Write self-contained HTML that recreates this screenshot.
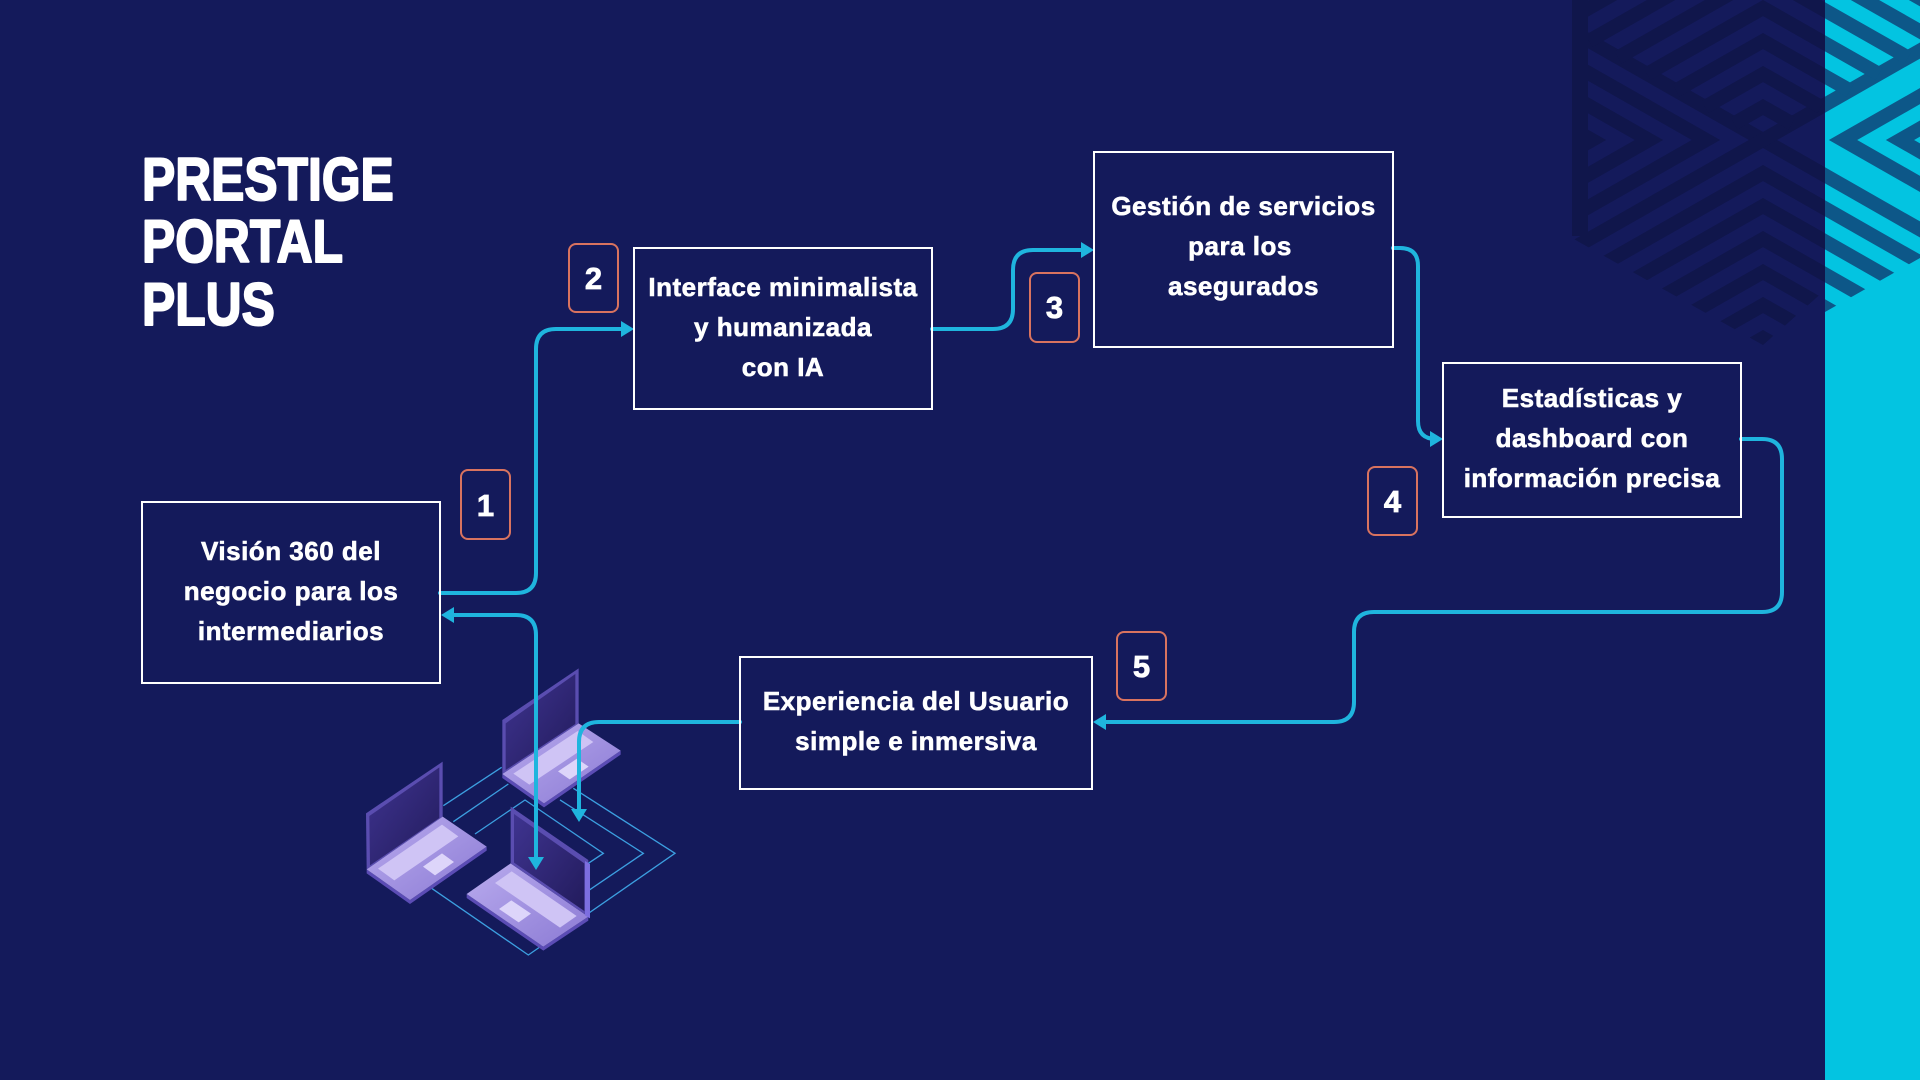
<!DOCTYPE html>
<html><head><meta charset="utf-8"><style>
html,body{margin:0;padding:0;background:#141a5b;}
svg{display:block;}
</style></head><body>
<svg width="1920" height="1080" viewBox="0 0 1920 1080" xmlns="http://www.w3.org/2000/svg" font-family="'Liberation Sans', sans-serif">
<defs>
  <clipPath id="hexNavy"><polygon points="1572,0 1825,0 1825,290 1763,345 1572,238"/></clipPath>
  <clipPath id="hexCyan"><polygon points="1825,0 1920,0 1920,258 1825,312"/></clipPath>
  <linearGradient id="gScreen" x1="0" y1="0" x2="1" y2="1">
    <stop offset="0" stop-color="#3f3490"/><stop offset="1" stop-color="#221b5c"/>
  </linearGradient>
  <linearGradient id="gBase" x1="0" y1="0" x2="1" y2="1">
    <stop offset="0" stop-color="#b9abee"/><stop offset="1" stop-color="#8b7ad4"/>
  </linearGradient>
  <g id="pat" fill="none" stroke-width="14" stroke-linejoin="miter">
    <line x1="1363" y1="-88" x2="2163" y2="368"/>
    <line x1="1363" y1="368" x2="2163" y2="-88"/>
    <polyline points="1306,-88 1706,140 1306,368"/>
    <polyline points="1249,-88 1649,140 1249,368"/>
    <polyline points="1192,-88 1592,140 1192,368"/>
    <polyline points="2243,-88 1843,140 2243,368"/>
    <polyline points="2300,-88 1900,140 2300,368"/>
    <polyline points="1734,123.5 1763,107 1792,123.5"/>
    <polyline points="1705,107 1763,74 1821,107"/>
    <polyline points="1676,90.5 1763,41 1850,90.5"/>
    <polyline points="1647,74 1763,8 1879,74"/>
    <polyline points="1618,57.5 1763,-25 1908,57.5"/>
    <polyline points="1589,41 1763,-58 1937,41"/>
    <polyline points="1560,24.5 1763,-91 1966,24.5"/>
    <polyline points="1531,8 1763,-124 1995,8"/>
    <polyline points="1363,401 1763,173 2163,401"/>
    <polyline points="1363,434 1763,206 2163,434"/>
    <polyline points="1363,467 1763,239 2163,467"/>
    <polyline points="1363,500 1763,272 2163,500"/>
    <polyline points="1363,533 1763,305 2163,533"/>
    <polyline points="1363,566 1763,338 2163,566"/>
  </g>
</defs>

<rect x="0" y="0" width="1920" height="1080" fill="#141a5b"/>
<!-- right cyan strip -->
<rect x="1825" y="0" width="95" height="1080" fill="#03c4e1"/>
<!-- pattern -->
<g clip-path="url(#hexNavy)"><use href="#pat" stroke="#10164b"/></g>
<g clip-path="url(#hexCyan)"><use href="#pat" stroke="#0d5788"/></g>
<rect x="1572" y="0" width="16" height="236" fill="#10164b"/>

<!-- Title -->
<g fill="#ffffff" stroke="#ffffff" stroke-width="2" stroke-linejoin="round" font-weight="bold" font-size="60">
  <text transform="translate(142,200) scale(0.83,1)">PRESTIGE</text>
  <text transform="translate(142,262) scale(0.83,1)">PORTAL</text>
  <text transform="translate(142,325) scale(0.83,1)">PLUS</text>
</g>

<!-- Laptop illustration -->
<g transform="translate(340,640) scale(0.33333)">
  <g fill="none" stroke="#3c9fe0" stroke-width="4">
    <line x1="310" y1="497" x2="485" y2="382"/>
    <line x1="340" y1="545" x2="505" y2="432"/>
    <polyline points="405,582 555,480 790,640 745,670"/>
    <polyline points="660,480 910,640 745,752"/>
    <polyline points="700,445 1005,640 565,945 275,745"/>
  </g>
  <!-- left laptop -->
  <polygon points="80,688 308,530 308,365 78,520" fill="#5a4db0"/>
  <polygon points="90,676 298,534 298,382 88,528" fill="url(#gScreen)"/>
  <polygon points="80,700 210,792 440,632 440,620 210,780 80,688" fill="#5b4cb5"/>
  <polygon points="80,688 308,530 440,620 210,780" fill="url(#gBase)"/>
  <polygon points="114,686 306,554 355,589 163,721" fill="#cfc4f5"/>
  <polygon points="249,680 306,640 342,666 285,706" fill="#ddd5fa"/>
  <!-- top laptop -->
  <polygon points="487,402 716,250 716,85 487,240" fill="#5a4db0"/>
  <polygon points="497,390 706,252 706,102 497,250" fill="url(#gScreen)"/>
  <polygon points="487,414 612,502 842,344 842,332 612,490 487,402" fill="#5b4cb5"/>
  <polygon points="487,402 716,250 842,332 612,490" fill="url(#gBase)"/>
  <polygon points="520,401 713,273 760,306 568,434" fill="#cfc4f5"/>
  <polygon points="654,394 711,356 746,380 689,418" fill="#ddd5fa"/>
  <!-- bottom laptop -->
  <polygon points="380,774 610,932 745,842 745,830 610,920 380,762" fill="#5b4cb5"/>
  <polygon points="512,670 745,830 610,920 380,762" fill="url(#gBase)"/>
  <polygon points="515,694 710,828 660,863 465,729" fill="#cfc4f5"/>
  <polygon points="514,781 573,821 536,847 477,807" fill="#ddd5fa"/>
  <polygon points="512,670 745,830 745,660 512,500" fill="#5a4db0"/>
  <polygon points="522,668 733,813 733,670 522,522" fill="url(#gScreen)"/>
  <polygon points="735,663 750,672 750,835 735,826" fill="#7d6ee0"/>
</g>

<!-- Connectors -->
<g fill="none" stroke="#1fb5de" stroke-width="4" stroke-linecap="round" stroke-linejoin="round">
  <path d="M440,593 H516 Q536,593 536,573 V349 Q536,329 556,329 H624"/>
  <path d="M536,862 V635 Q536,615 516,615 H452"/>
  <path d="M932,329 H993 Q1013,329 1013,309 V270 Q1013,250 1033,250 H1084"/>
  <path d="M1393,248 H1400 Q1418,248 1418,266 V421 Q1418,439 1436,439"/>
  <path d="M1741,439 H1762 Q1782,439 1782,459 V592 Q1782,612 1762,612 H1374 Q1354,612 1354,632 V702 Q1354,722 1334,722 H1104"/>
  <path d="M740,722 H599 Q579,722 579,742 V812"/>
</g>
<g fill="#1fb5de">
  <polygon points="634,329 621,321 621,337"/>
  <polygon points="1094,250 1081,242 1081,258"/>
  <polygon points="1443,439 1430,431 1430,447"/>
  <polygon points="1093,722 1106,714 1106,730"/>
  <polygon points="441,615 454,607 454,623"/>
  <polygon points="536,870 528,857 544,857"/>
  <polygon points="579,822 571,809 587,809"/>
</g>

<!-- Boxes -->
<g fill="none" stroke="#ffffff" stroke-width="2">
  <rect x="142" y="502" width="298" height="181"/>
  <rect x="634" y="248" width="298" height="161"/>
  <rect x="1094" y="152" width="299" height="195"/>
  <rect x="1443" y="363" width="298" height="154"/>
  <rect x="740" y="657" width="352" height="132"/>
</g>

<!-- Badges -->
<g fill="none" stroke="#d9735f" stroke-width="2">
  <rect x="461" y="470" width="49" height="69" rx="7"/>
  <rect x="569" y="244" width="49" height="68" rx="7"/>
  <rect x="1030" y="273" width="49" height="69" rx="7"/>
  <rect x="1368" y="467" width="49" height="68" rx="7"/>
  <rect x="1117" y="632" width="49" height="68" rx="7"/>
</g>
<g fill="#ffffff" stroke="#ffffff" stroke-width="0.8" font-weight="bold" font-size="31" text-anchor="middle">
  <text x="485.5" y="516">1</text>
  <text x="593.5" y="289">2</text>
  <text x="1054.5" y="318">3</text>
  <text x="1392.5" y="512">4</text>
  <text x="1141.5" y="677">5</text>
</g>

<!-- Box labels -->
<g fill="#ffffff" stroke="#ffffff" stroke-width="0.6" font-weight="bold" font-size="26" text-anchor="middle" letter-spacing="0.5">
  <text x="291" y="560">Visión 360 del</text>
  <text x="291" y="600">negocio para los</text>
  <text x="291" y="640">intermediarios</text>

  <text x="783" y="296">Interface minimalista</text>
  <text x="783" y="336">y humanizada</text>
  <text x="783" y="376">con IA</text>

  <text x="1243.5" y="215">Gestión de servicios</text>
  <text x="1240" y="255">para los</text>
  <text x="1243.5" y="295">asegurados</text>

  <text x="1592" y="407">Estadísticas y</text>
  <text x="1592" y="447">dashboard con</text>
  <text x="1592" y="487">información precisa</text>

  <text x="916" y="710">Experiencia del Usuario</text>
  <text x="916" y="750">simple e inmersiva</text>
</g>
</svg>
</body></html>
